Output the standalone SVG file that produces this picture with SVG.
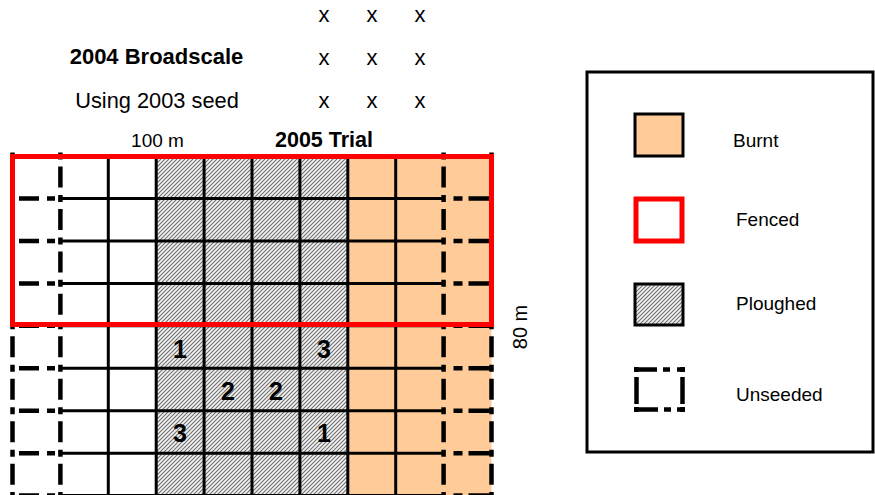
<svg xmlns="http://www.w3.org/2000/svg" width="875" height="495" viewBox="0 0 875 495">
<style>
text{font-family:"Liberation Sans",Arial,sans-serif;fill:#000}
.b{font-weight:bold}
.sol{stroke:#000;stroke-width:3;fill:none}
.vd{stroke:#000;stroke-width:4.5;fill:none;stroke-dasharray:7 7 21 7.45}
.hl{stroke:#000;stroke-width:4.5;fill:none;stroke-dasharray:20 8 8 100}
.hr{stroke:#000;stroke-width:4.5;fill:none;stroke-dasharray:23 6 9 100}
.ud{stroke:#000;stroke-width:4.5;fill:none}
</style>
<defs>
<pattern id="hatch" width="4" height="4" patternUnits="userSpaceOnUse">
<rect width="4" height="4" fill="#f2f2f2"/>
<path d="M-1,1 L1,-1 M0,4 L4,0 M3,5 L5,3" stroke="#707070" stroke-width="1.1"/>
</pattern>
</defs>
<rect width="875" height="495" fill="#fff"/>

<g id="labels-top" font-size="22">
<text x="324" y="22" text-anchor="middle">x</text>
<text x="372" y="22" text-anchor="middle">x</text>
<text x="420" y="22" text-anchor="middle">x</text>
<text x="324" y="65" text-anchor="middle">x</text>
<text x="372" y="65" text-anchor="middle">x</text>
<text x="420" y="65" text-anchor="middle">x</text>
<text x="324" y="108" text-anchor="middle">x</text>
<text x="372" y="108" text-anchor="middle">x</text>
<text x="420" y="108" text-anchor="middle">x</text>
<text x="156.5" y="64" text-anchor="middle" class="b" font-size="22">2004 Broadscale</text>
<text x="157" y="108" text-anchor="middle" font-size="21.8">Using 2003 seed</text>
<text x="157.5" y="147" text-anchor="middle" font-size="19">100 m</text>
<text x="324" y="147" text-anchor="middle" class="b" font-size="21.5">2005 Trial</text>
</g>

<g id="plot">
<rect x="156.2" y="156" width="191.6" height="340" fill="url(#hatch)"/>
<rect x="347.8" y="156" width="143.7" height="340" fill="#FFCC99"/>
<g id="grid-solid" class="sol">
<path d="M108.3,156V496 M156.2,156V496 M204.1,156V496 M252,156V496 M299.9,156V496 M347.8,156V496 M395.7,156V496"/>
<path d="M60.4,198.5H443.6 M60.4,240.9H443.6 M60.4,283.4H443.6 M60.4,325.8H443.6 M60.4,368.3H443.6 M60.4,410.7H443.6 M60.4,453.2H443.6 M60.4,495.6H443.6"/>
</g>
<g id="grid-dashed">
<path class="vd" d="M12.5,152.5V496 M60.4,152.5V496 M443.6,152.5V496 M491.5,152.5V496"/>
<path class="hl" d="M19,198.5H61 M19,240.9H61 M19,283.4H61 M19,325.8H61 M19,368.3H61 M19,410.7H61 M19,453.2H61 M19,495.6H61"/>
<path class="hr" d="M491.5,198.5H443 M491.5,240.9H443 M491.5,283.4H443 M491.5,325.8H443 M491.5,368.3H443 M491.5,410.7H443 M491.5,453.2H443 M491.5,495.6H443"/>
</g>
<rect id="fence" x="12.5" y="156.5" width="479" height="168" fill="none" stroke="#FF0000" stroke-width="5"/>
<g id="numbers" class="b" font-size="25" text-anchor="middle">
<text x="180" y="357.5">1</text>
<text x="324" y="357.5">3</text>
<text x="228" y="400">2</text>
<text x="276" y="400">2</text>
<text x="180" y="442">3</text>
<text x="324" y="442">1</text>
</g>
<text x="527" y="327" font-size="20" text-anchor="middle" transform="rotate(-90 527 327)">80 m</text>
</g>

<g id="legend">
<rect x="587" y="72" width="286" height="380" fill="#fff" stroke="#000" stroke-width="3"/>
<g id="leg-burnt">
<rect x="635" y="114" width="48" height="42" fill="#FFCC99" stroke="#000" stroke-width="3"/>
<text x="733" y="147" font-size="19">Burnt</text>
</g>
<g id="leg-fenced">
<rect x="636" y="199" width="46" height="42" fill="#fff" stroke="#FF0000" stroke-width="5"/>
<text x="736" y="226" font-size="19">Fenced</text>
</g>
<g id="leg-ploughed">
<rect x="635" y="284" width="48" height="41" fill="url(#hatch)" stroke="#000" stroke-width="3"/>
<text x="736" y="310" font-size="19">Ploughed</text>
</g>
<g id="leg-unseeded">
<path class="ud" d="M634,369.5H657 M663,369.5H670 M677,369.5H685 M634,409.5H658 M664,409.5H671 M677,409.5H685 M636.5,377V404 M682.5,377V404 M636.5,367V372 M636.5,407V412 M682.5,367V372 M682.5,407V412"/>
<text x="736" y="401" font-size="19">Unseeded</text>
</g>
</g>
</svg>
